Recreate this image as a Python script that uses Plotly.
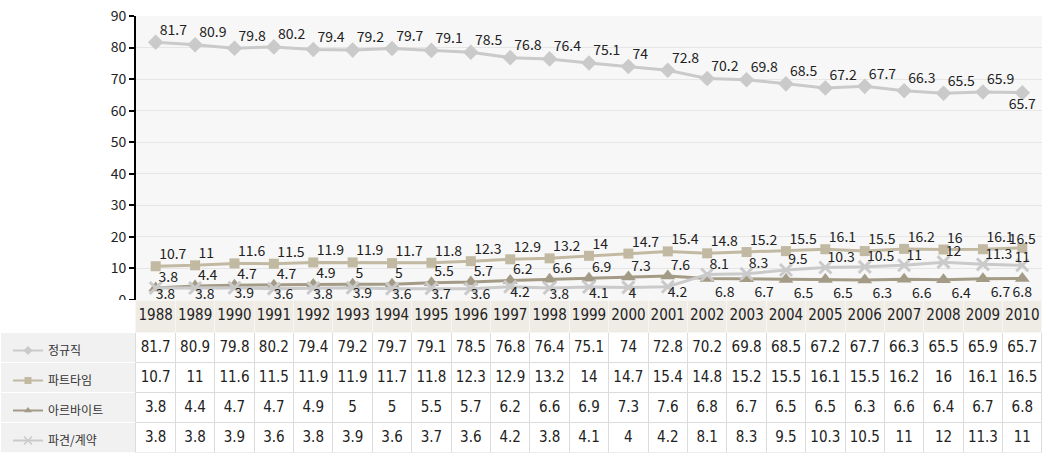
import plotly.graph_objects as go

years = [str(y) for y in range(1988, 2011)]
series_names = ["정규직", "파트타임", "아르바이트", "파견/계약"]
regular = [81.7, 80.9, 79.8, 80.2, 79.4, 79.2, 79.7, 79.1, 78.5, 76.8, 76.4, 75.1, 74, 72.8, 70.2, 69.8, 68.5, 67.2, 67.7, 66.3, 65.5, 65.9, 65.7]
part_time = [10.7, 11, 11.6, 11.5, 11.9, 11.9, 11.7, 11.8, 12.3, 12.9, 13.2, 14, 14.7, 15.4, 14.8, 15.2, 15.5, 16.1, 15.5, 16.2, 16, 16.1, 16.5]
arbeit = [3.8, 4.4, 4.7, 4.7, 4.9, 5, 5, 5.5, 5.7, 6.2, 6.6, 6.9, 7.3, 7.6, 6.8, 6.7, 6.5, 6.5, 6.3, 6.6, 6.4, 6.7, 6.8]
dispatch = [3.8, 3.8, 3.9, 3.6, 3.8, 3.9, 3.6, 3.7, 3.6, 4.2, 3.8, 4.1, 4, 4.2, 8.1, 8.3, 9.5, 10.3, 10.5, 11, 12, 11.3, 11]
y_ticks = [0, 10, 20, 30, 40, 50, 60, 70, 80, 90]

all_series = [regular, part_time, arbeit, dispatch]

# label placement per point (style)
pos_regular = ["top right"] * 22 + ["bottom center"]
pos_part = ["top right"] * 22 + ["top center"]
pos_arbeit = ["top right"] * 14 + ["bottom right"] * 8 + ["bottom center"]
pos_dispatch = ["bottom right"] * 14 + ["top right"] * 8 + ["top center"]
positions = [pos_regular, pos_part, pos_arbeit, pos_dispatch]
# label distance from marker (style): (top gap, bottom gap), last point gap
gaps = [(5, 8), (4, 0), (3, 11), (2, 0)]
last_gap = [8, 0, 11, 0]

colors = ["#cacaca", "#c2b9a2", "#a39b86", "#cacaca"]
symbols = ["diamond", "square", "triangle-up", "x-thin"]
sizes = [12, 10, 13, 12]

W, H = 1045, 453
fmt = lambda v: f"{v:g}"
NUM_FONT = "Liberation Sans Narrow, DejaVu Sans Condensed, Arial Narrow, sans-serif"

fig = go.Figure()

for name, vals, col, sym, sz in zip(series_names, all_series, colors, symbols, sizes):
    marker = dict(symbol=sym, size=sz, color=col, line=dict(width=0))
    if sym == "x-thin":
        marker = dict(symbol=sym, size=sz, color=col, line=dict(color=col, width=3))
    fig.add_trace(go.Scatter(
        x=years, y=vals, mode="lines+markers",
        line=dict(color=col, width=3), marker=marker,
        showlegend=False, cliponaxis=False, hoverinfo="skip",
    ))

# value labels (invisible spacer markers set the label distance)
for vals, pos, (gt, gb), lg in zip(all_series, positions, gaps, last_gap):
    gsz = [gt if p.startswith("top") else gb for p in pos]
    gsz[-1] = lg
    fig.add_trace(go.Scatter(
        x=years, y=vals, mode="markers+text",
        text=[fmt(v) for v in vals], textposition=pos,
        textfont=dict(family="Noto Sans CJK KR", size=14, color="#222"),
        marker=dict(size=gsz, color="rgba(0,0,0,0)", opacity=0,
                    line=dict(width=0, color="rgba(0,0,0,0)")),
        showlegend=False, cliponaxis=False, hoverinfo="skip",
    ))

# legend-only entries (smaller icons)
for i, (name, col, sym) in enumerate(zip(series_names, colors, symbols)):
    marker = dict(symbol=sym, size=7, color=col, line=dict(width=0))
    if sym == "x-thin":
        marker = dict(symbol=sym, size=8, color=col, line=dict(color=col, width=1.5))
    fig.add_trace(go.Scatter(
        x=[None], y=[None], mode="lines+markers", name=name,
        line=dict(color=col, width=2), marker=marker,
        legendgroup=f"g{i}", showlegend=True,
    ))

# data table
n = len(years)
cell_values = [[""] * 4] + [[fmt(s[i]) for s in all_series] for i in range(n)]
fig.add_trace(go.Table(
    domain=dict(x=[0, 1042 / W], y=[0, 152.5 / H]),
    columnwidth=[136] + [39.4] * n,
    header=dict(
        values=[""] + years, height=32, align="center",
        fill=dict(color=["white"] + ["#efebe5"] * n),
        line=dict(color=["white"] + ["#f8f6f2"] * n, width=1),
        font=dict(family=NUM_FONT, size=15, color="#222"),
    ),
    cells=dict(
        values=cell_values, height=30, align="center",
        fill=dict(color=[["#f1f1f1"] * 4] + [["white"] * 4] * n),
        line=dict(color=[["white"] * 4] + [["#dcdcdc"] * 4] * n, width=1),
        font=dict(family=NUM_FONT, size=15, color="#222"),
    ),
))

fig.update_layout(
    width=W, height=H,
    margin=dict(l=0, r=0, t=0, b=0, autoexpand=False),
    paper_bgcolor="white", plot_bgcolor="#f7f7f7",
    font=dict(family="Noto Sans CJK KR", size=13, color="#333"),
    legend=dict(
        x=8 / W, y=(H - 336) / H, xanchor="left", yanchor="top",
        bgcolor="rgba(0,0,0,0)", tracegroupgap=11,
        font=dict(family="Noto Sans CJK KR", size=12, color="#333"),
    ),
    xaxis=dict(
        type="category", domain=[136 / W, 1042 / W], range=[-0.5, n - 0.5],
        showticklabels=False, showgrid=False, ticks="",
        showline=True, linecolor="black", linewidth=2, zeroline=False,
    ),
    yaxis=dict(
        domain=[(H - 300) / H, (H - 16) / H], range=[0, 90],
        tickvals=y_ticks, showgrid=True, gridcolor="#e6e6e6", gridwidth=1,
        showline=True, linecolor="black", linewidth=2, zeroline=False,
        ticks="outside", ticklen=5, tickwidth=2, tickcolor="black",
        tickfont=dict(family="Noto Sans CJK KR", size=14, color="#222"),
    ),
)

fig.write_html("out.html")
